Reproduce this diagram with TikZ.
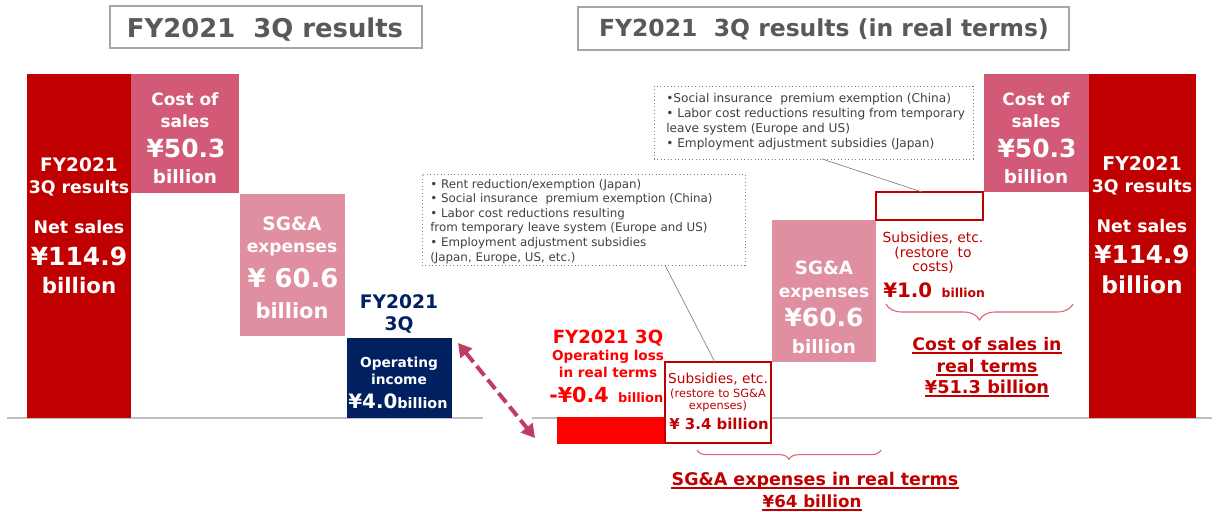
\documentclass[tikz,border=0pt]{standalone}
\usepackage{fontspec}
\setmainfont{DejaVu Sans}
\usetikzlibrary{fit,calc,arrows.meta,decorations.pathreplacing}
\definecolor{dred}{HTML}{C00000}
\definecolor{cpink}{HTML}{D25A76}
\definecolor{spink}{HTML}{E08FA0}
\definecolor{navy}{HTML}{002060}
\definecolor{bred}{HTML}{FF0000}
\definecolor{tgray}{HTML}{595959}
\definecolor{bgray}{HTML}{A6A6A6}
\definecolor{lgray}{HTML}{BFBFBF}
\definecolor{cgray}{HTML}{404040}
\definecolor{arrcol}{HTML}{C03C64}
\definecolor{bracecol}{HTML}{E06070}
\newcommand\fs[1]{\fontsize{#1}{#1}\selectfont}
\begin{document}
\begin{tikzpicture}[x=0.75pt,y=-0.75pt,
  box/.style={inner sep=0pt, outer sep=0pt},
  w/.style={text=white, anchor=base, inner sep=0pt, font=\bfseries\fs{#1}},
  rd/.style={text=bred, anchor=base, inner sep=0pt, font=\bfseries\fs{#1}},
  dr/.style={text=dred, anchor=base, inner sep=0pt, font=\bfseries\fs{#1}},
  drn/.style={text=dred, anchor=base, inner sep=0pt, font=\fs{#1}},
  nv/.style={text=navy, anchor=base, inner sep=0pt, font=\bfseries\fs{#1}},
  ttl/.style={text=tgray, anchor=base, inner sep=0pt, font=\bfseries\fs{#1}},
  cl/.style={text=cgray, anchor=base west, inner sep=0pt, font=\fs{#1}},
  callbox/.style={draw=gray, dotted, line width=0.6pt, inner sep=0pt, outer sep=0pt},
  conn/.style={draw=gray, line width=0.5pt},
  ulin/.style={draw=dred, line width=0.9pt},
  bracestyle/.style={draw=bracecol, line width=0.8pt, decorate, decoration={brace, mirror, amplitude=#1}},
]
\useasboundingbox (0,0) rectangle (1217,511);

% titles
\node[box, draw=bgray, line width=1pt, fit={(110,6) (422,48)}] (t1box) {};
\node[ttl=19.4] (t1) at (265,37) {FY2021\ \ 3Q results};
\node[box, draw=bgray, line width=1pt, fit={(578,7) (1069,50)}] (t2box) {};
\node[ttl=17.6] (t2) at (824,36) {FY2021\ \ 3Q results (in real terms)};

% base lines
\coordinate (bl1) at (7,418); \coordinate (bl2) at (483,418);
\coordinate (bl3) at (532,418); \coordinate (bl4) at (1212,418);
\draw[lgray, line width=1.5pt] (bl1) -- (bl2);
\draw[lgray, line width=1.5pt] (bl3) -- (bl4);

% left waterfall
\node[box, fill=dred, fit={(27,74) (131,418)}] (lbar) {};
\node[box, fill=cpink, fit={(131,74) (239,193)}] (lcost) {};
\node[box, fill=spink, fit={(240,194) (345,336)}] (lsga) {};
\node[box, fill=navy, fit={(347,338) (452,418)}] (loi) {};

\node[w=13.9] (lb1) at (79,171) {FY2021};
\node[w=13] (lb2) at (79,193) {3Q results};
\node[w=13] (lb3) at (79,233) {Net sales};
\node[w=18.7] (lb4) at (79,265) {¥114.9};
\node[w=16] (lb5) at (79,293) {billion};

\node[w=12.7] (lc1) at (185,105) {Cost of};
\node[w=12.7] (lc2) at (185,127) {sales};
\node[w=18.7] (lc3) at (186,157) {¥50.3};
\node[w=13.8] (lc4) at (185,183) {billion};

\node[w=13.9] (ls1) at (292,230) {SG\&A};
\node[w=12.8] (ls2) at (292,252) {expenses};
\node[w=19.4] (ls3) at (293,287) {¥ 60.6};
\node[w=15.7] (ls4) at (292,318) {billion};

\node[nv=14] (fy1) at (399,308) {FY2021};
\node[nv=14] (fy2) at (399,330) {3Q};
\node[w=10.3] (oi1) at (399,367) {Operating};
\node[w=10.3] (oi2) at (399,384) {income};
\node[w=14.9] (oi3) at (398,408) {¥4.0{\fs{10.8}billion}};

% arrow
\coordinate (arA) at (458,343); \coordinate (arB) at (535,438);
\draw[arrcol, line width=3pt, dash pattern=on 9pt off 4pt,
  {Triangle[length=10pt,width=11pt]}-{Triangle[length=10pt,width=11pt]}] (arA) -- (arB);

% right waterfall
\node[box, fill=bred, fit={(557,417) (668,444)}] (rloss) {};
\node[rd=13.6] (rl1) at (608,343) {FY2021 3Q};
\node[rd=10.2] (rl2) at (608,360) {Operating loss};
\node[rd=10.2] (rl3) at (608,377) {in real terms};
\node[rd=15.5, anchor=base west] (rl4) at (549,402) {-¥0.4\hspace{7pt}{\fs{9.7}billion}};

\node[box, fill=white, draw=dred, line width=1.5pt, fit={(665,362) (771,443)}] (sub1) {};
\node[drn=10.3] (s1a) at (718,383) {Subsidies, etc.};
\node[drn=8.5] (s1b) at (718,397) {(restore to SG\&A};
\node[drn=8.5] (s1c) at (718,409) {expenses)};
\node[dr=11.2] (s1d) at (719,429) {¥ 3.4 billion};

\node[box, fill=spink, fit={(772,220) (876,362)}] (rsga) {};
\node[w=13.7] (rs1) at (824,274) {SG\&A};
\node[w=12.8] (rs2) at (824,297) {expenses};
\node[w=18.7] (rs3) at (824,326) {¥60.6};
\node[w=13.8] (rs4) at (824,353) {billion};

\node[box, fill=white, draw=dred, line width=1.5pt, fit={(876,192) (983,220)}] (subc) {};
\node[drn=10.4] (sc1) at (933,242) {Subsidies, etc.};
\node[drn=10.4] (sc2) at (933,257) {(restore\ \ to};
\node[drn=10.4] (sc3) at (933,271) {costs)};
\node[dr=14.9, anchor=base west] (sc4) at (883,297) {¥1.0\hspace{7pt}{\fs{9.3}billion}};

\node[box, fill=cpink, fit={(984,74) (1089,192)}] (rcost) {};
\node[w=12.7] (rc1) at (1036,105) {Cost of};
\node[w=12.7] (rc2) at (1036,127) {sales};
\node[w=18.7] (rc3) at (1037,157) {¥50.3};
\node[w=13.8] (rc4) at (1036,183) {billion};

\node[box, fill=dred, fit={(1089,74) (1196,418)}] (rbar) {};
\node[w=14.2] (rb1) at (1142,170) {FY2021};
\node[w=13] (rb2) at (1142,192) {3Q results};
\node[w=13] (rb3) at (1142,232) {Net sales};
\node[w=18.5] (rb4) at (1142,263) {¥114.9};
\node[w=17.5] (rb5) at (1142,293) {billion};

% braces
\coordinate (brA) at (886,304); \coordinate (brB) at (1073,304);
\draw[bracestyle=12pt] (brA) -- (brB);
\coordinate (brC) at (697,450); \coordinate (brD) at (881,450);
\draw[bracestyle=7pt] (brC) -- (brD);

% real-terms labels
\node[dr=13] (cr1) at (987,350) {Cost of sales in};
\node[dr=13] (cr2) at (987,372) {real terms};
\node[dr=13.3] (cr3) at (987,393) {¥51.3 billion};
\node[dr=13.1] (sr1) at (815,485) {SG\&A expenses in real terms};
\node[dr=12.5] (sr2) at (812,507) {¥64 billion};
\foreach \n in {cr1,cr2,cr3,sr1,sr2}
  \draw[ulin] ([yshift=-2.2pt]\n.base west) -- ([yshift=-2.2pt]\n.base east);

% callouts
\node[callbox, fit={(422,174) (745,265)}] (c1) {};
\foreach \t [count=\i] in {{• Rent reduction/exemption (Japan)},
  {• Social insurance\ \ premium exemption (China)},
  {• Labor cost reductions resulting},
  {from temporary leave system (Europe and US)},
  {• Employment adjustment subsidies},
  {(Japan, Europe, US, etc.)}}
  \node[cl=8.9] (c1l\i) at (430,{188+14.6*(\i-1)}) {\t};

\node[callbox, fit={(654,86) (973,159)}] (c2) {};
\foreach \t [count=\i] in {{•Social insurance\ \ premium exemption (China)},
  {• Labor cost reductions resulting from temporary},
  {leave system (Europe and US)},
  {• Employment adjustment subsidies (Japan)}}
  \node[cl=9.1] (c2l\i) at (666,{102+15*(\i-1)}) {\t};

\draw[conn] ($(c1.south west)!0.752!(c1.south east)$) -- ($(sub1.north west)!0.47!(sub1.north east)$);
\draw[conn] ($(c2.south west)!0.527!(c2.south east)$) -- ($(subc.north west)!0.43!(subc.north east)$);
\end{tikzpicture}
\end{document}
